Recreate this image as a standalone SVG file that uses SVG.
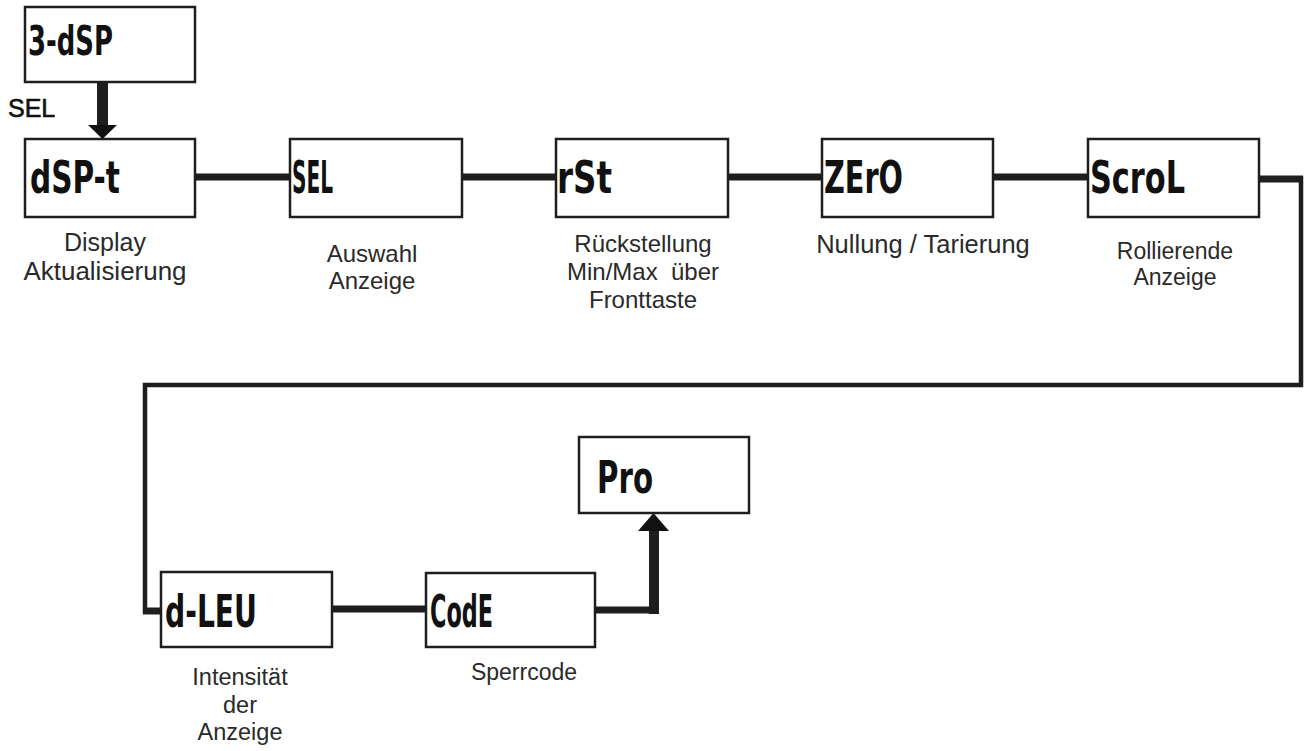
<svg xmlns="http://www.w3.org/2000/svg" width="1304" height="751" viewBox="0 0 1304 751">
<defs>
<style>
.box{fill:#fff;stroke:#1e1e1e;stroke-width:2.5}
.lcd{font-family:"DejaVu Sans Condensed","DejaVu Sans",sans-serif;font-weight:bold;fill:#111}
.lbl{font-family:"Liberation Sans",Arial,sans-serif;fill:#2a2a2a;text-anchor:middle}
.sel{font-family:"Liberation Sans",Arial,sans-serif;fill:#111;stroke:#111;stroke-width:0.6}
.c{stroke:#1e1e1e;fill:none;stroke-width:7}
.t{stroke-width:4.5}
.ah{fill:#111}
</style>
</defs>
<rect width="1304" height="751" fill="#fff"/>
<g id="connectors">
<line class="c" x1="102.5" y1="82" x2="102.5" y2="127" style="stroke-width:11"/>
<polygon class="ah" points="88,125 117,125 102.5,139"/>
<line class="c" x1="195" y1="177" x2="290" y2="177"/>
<line class="c" x1="462" y1="177" x2="556" y2="177"/>
<line class="c" x1="728" y1="177" x2="822" y2="177"/>
<line class="c" x1="993" y1="177" x2="1088" y2="177"/>
<line class="c" x1="1259" y1="179" x2="1303" y2="179"/>
<path class="c t" d="M1301,176 V385 H145 V614"/>
<line class="c" x1="143" y1="611" x2="161" y2="611"/>
<line class="c" x1="332" y1="609" x2="426" y2="609"/>
<line class="c" x1="595" y1="610" x2="659" y2="610"/>
<line class="c" x1="654" y1="614" x2="654" y2="528" style="stroke-width:10"/>
<polygon class="ah" points="638,531 669,531 653.5,513"/>
</g>
<g id="node-3dsp">
<rect class="box" x="25" y="7" width="170" height="75"/>
<text class="lcd" x="28" y="55" font-size="40" textLength="85" lengthAdjust="spacingAndGlyphs">3-dSP</text>
</g>
<text class="sel" x="8" y="117" font-size="25">SEL</text>
<g id="node-dspt">
<rect class="box" x="25" y="139" width="170" height="78"/>
<text class="lcd" x="30" y="193" font-size="44" textLength="90" lengthAdjust="spacingAndGlyphs">dSP-t</text>
<text class="lbl" x="105" y="251" font-size="25">Display</text>
<text class="lbl" x="105" y="280" font-size="25" textLength="163" lengthAdjust="spacingAndGlyphs">Aktualisierung</text>
</g>
<g id="node-sel">
<rect class="box" x="290" y="139" width="172" height="78"/>
<text class="lcd" x="292" y="193" font-size="44" textLength="41" lengthAdjust="spacingAndGlyphs">SEL</text>
<text class="lbl" x="372" y="262" font-size="24">Auswahl</text>
<text class="lbl" x="372" y="289" font-size="24">Anzeige</text>
</g>
<g id="node-rst">
<rect class="box" x="556" y="139" width="172" height="78"/>
<text class="lcd" x="557" y="193" font-size="44" textLength="55" lengthAdjust="spacingAndGlyphs">rSt</text>
<text class="lbl" x="643" y="252" font-size="24">Rückstellung</text>
<text class="lbl" x="643" y="280" font-size="24" xml:space="preserve">Min/Max  über</text>
<text class="lbl" x="643" y="308" font-size="24">Fronttaste</text>
</g>
<g id="node-zero">
<rect class="box" x="822" y="139" width="171" height="78"/>
<text class="lcd" x="824" y="193" font-size="44" textLength="79" lengthAdjust="spacingAndGlyphs">ZErO</text>
<text class="lbl" x="923" y="253" font-size="25.5">Nullung / Tarierung</text>
</g>
<g id="node-scrol">
<rect class="box" x="1088" y="139" width="171" height="78"/>
<text class="lcd" x="1090" y="193" font-size="44" textLength="95" lengthAdjust="spacingAndGlyphs">ScroL</text>
<text class="lbl" x="1175" y="259" font-size="23">Rollierende</text>
<text class="lbl" x="1175" y="285" font-size="23">Anzeige</text>
</g>
<g id="node-dlev">
<rect class="box" x="161" y="572" width="171" height="75"/>
<text class="lcd" x="165" y="627" font-size="44" textLength="92" lengthAdjust="spacingAndGlyphs">d-LEU</text>
<text class="lbl" x="240" y="685" font-size="23.5">Intensität</text>
<text class="lbl" x="240" y="713" font-size="23.5">der</text>
<text class="lbl" x="240" y="740" font-size="23.5">Anzeige</text>
</g>
<g id="node-code">
<rect class="box" x="426" y="573" width="169" height="74"/>
<text class="lcd" x="430" y="627" font-size="44" textLength="63" lengthAdjust="spacingAndGlyphs">CodE</text>
<text class="lbl" x="524" y="680" font-size="23">Sperrcode</text>
</g>
<g id="node-pro">
<rect class="box" x="579" y="437" width="170" height="76"/>
<text class="lcd" x="597" y="493" font-size="44" textLength="56" lengthAdjust="spacingAndGlyphs">Pro</text>
</g>
</svg>
